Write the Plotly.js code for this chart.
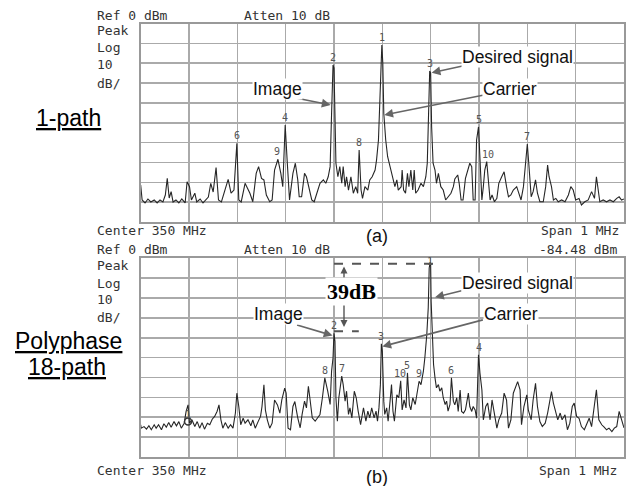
<!DOCTYPE html>
<html><head><meta charset="utf-8">
<script src="https://cdn.plot.ly/plotly-3.0.1.min.js"></script>
<style>html,body{margin:0;padding:0;background:#fff}#chart{width:632px;height:486px}</style>
</head><body><div id="chart"></div>
<script>
// ---- Data: panel (a) 1-path, frequency in MHz, level in dBm ----
const freqA = [349.500,349.503,349.509,349.515,349.521,349.528,349.534,349.540,349.546,349.551,
349.555,349.559,349.563,349.567,349.573,349.579,349.585,349.592,349.596,349.601,
349.605,349.612,349.616,349.623,349.629,349.635,349.640,349.645,349.650,349.656,
349.661,349.667,349.675,349.681,349.687,349.693,349.699,349.703,349.708,349.716,
349.726,349.732,349.739,349.744,349.750,349.755,349.760,349.767,349.772,349.777,
349.784,349.790,349.794,349.799,349.803,349.808,349.815,349.820,349.825,349.828,
349.833,349.839,349.843,349.848,349.854,349.859,349.864,349.871,349.878,349.883,
349.888,349.892,349.895,349.898,349.900,349.902,349.904,349.908,349.912,349.916,
349.919,349.923,349.926,349.930,349.935,349.940,349.945,349.949,349.952,349.956,
349.959,349.964,349.970,349.974,349.979,349.985,349.988,349.992,349.994,349.997,
349.999,350.001,350.003,350.007,350.011,350.016,350.019,350.023,350.026,350.030,
350.033,350.039,350.041,350.044,350.048,350.052,350.055,350.059,350.063,350.066,
350.069,350.074,350.080,350.085,350.090,350.093,350.095,350.098,350.100,350.102,
350.105,350.109,350.112,350.116,350.121,350.126,350.131,350.136,350.142,350.147,
350.150,350.156,350.159,350.163,350.167,350.172,350.177,350.181,350.185,350.188,
350.192,350.195,350.199,350.202,350.206,350.209,350.212,350.216,350.219,350.223,
350.227,350.232,350.237,350.241,350.247,350.252,350.257,350.261,350.266,350.271,
350.278,350.283,350.287,350.292,350.297,350.300,350.303,350.308,350.312,350.317,
350.321,350.326,350.333,350.338,350.342,350.345,350.350,350.354,350.359,350.364,
350.371,350.378,350.385,350.390,350.395,350.400,350.407,350.412,350.419,350.426,
350.433,350.439,350.443,350.447,350.450,350.457,350.464,350.471,350.478,350.485,
350.490,350.495,350.500];
const levelA = [-81.4,-88.9,-90.4,-88.4,-89.9,-88.9,-90.4,-88.9,-89.9,-86.4,
-78.0,-87.9,-84.7,-89.9,-88.9,-90.4,-88.4,-90.4,-79.7,-82.2,
-88.9,-85.5,-89.9,-88.4,-90.4,-88.9,-87.4,-80.5,-84.9,-72.6,
-88.9,-89.9,-83.9,-78.5,-85.5,-83.9,-60.4,-88.9,-89.9,-80.5,
-85.5,-89.8,-75.5,-72.1,-78.0,-78.8,-86.4,-89.8,-88.9,-73.8,
-68.4,-75.5,-82.2,-51.1,-68.8,-88.9,-75.5,-70.4,-78.8,-87.3,
-87.3,-75.5,-77.2,-82.2,-88.9,-89.8,-85.5,-80.5,-78.8,-80.5,
-77.2,-72.1,-45.2,-20.9,-22.4,-43.6,-70.4,-77.2,-72.1,-80.5,
-72.1,-82.2,-77.2,-83.9,-77.2,-85.5,-82.2,-85.5,-63.7,-83.9,
-88.1,-82.2,-83.9,-78.8,-77.2,-73.8,-68.8,-58.7,-45.2,-23.4,
-10.8,-20.1,-45.2,-58.7,-67.1,-72.1,-75.5,-79.7,-82.2,-78.8,
-83.9,-82.2,-73.8,-83.9,-85.5,-75.5,-82.2,-73.8,-83.9,-73.8,
-85.5,-83.9,-80.5,-82.2,-77.2,-70.4,-50.3,-23.9,-24.9,-52.0,
-70.4,-73.8,-80.5,-75.5,-82.2,-83.9,-88.9,-87.3,-85.5,-82.2,
-78.3,-76.3,-80.5,-88.9,-88.9,-78.0,-73.8,-70.4,-72.1,-88.9,
-88.9,-58.7,-52.1,-68.8,-88.9,-82.2,-73.8,-69.6,-77.2,-88.9,
-86.4,-89.8,-88.1,-80.5,-77.2,-74.7,-82.2,-87.3,-86.4,-83.9,
-82.2,-86.4,-88.9,-82.2,-68.8,-60.7,-70.4,-87.3,-84.7,-78.8,
-85.5,-89.8,-89.8,-82.2,-71.3,-77.2,-82.2,-88.9,-88.1,-89.8,
-88.9,-89.8,-86.4,-82.2,-83.9,-88.9,-88.1,-91.4,-89.8,-88.9,
-84.7,-88.1,-77.2,-83.9,-89.8,-88.9,-89.8,-88.9,-89.8,-88.1,
-87.3,-88.9,-88.4];
const markerTextA = ['1','2','3','4','5','6','7','8','9','10'];
const markerFreqA = [349.999,349.898,350.098,349.799,350.199,349.699,350.300,349.952,349.782,350.218];
const markerLevelA = [-10.8,-20.9,-23.9,-51.1,-52.1,-60.4,-60.7,-63.7,-68.4,-69.6];

// ---- Data: panel (b) Polyphase 18-path ----
const freqB = [349.500,349.501,349.507,349.512,349.517,349.522,349.528,349.532,349.537,349.543,
349.548,349.553,349.558,349.563,349.569,349.574,349.579,349.584,349.590,349.594,
349.598,349.601,349.606,349.612,349.617,349.622,349.627,349.632,349.638,349.643,
349.648,349.653,349.658,349.662,349.666,349.670,349.675,349.681,349.686,349.691,
349.696,349.699,349.703,349.707,349.712,349.716,349.722,349.728,349.732,349.737,
349.743,349.748,349.751,349.755,349.758,349.762,349.767,349.772,349.777,349.783,
349.788,349.792,349.798,349.801,349.805,349.810,349.815,349.819,349.825,349.830,
349.834,349.839,349.843,349.847,349.850,349.855,349.861,349.866,349.871,349.876,
349.881,349.887,349.892,349.895,349.898,349.900,349.902,349.904,349.907,349.910,
349.916,349.919,349.923,349.926,349.930,349.933,349.937,349.942,349.946,349.950,
349.955,349.961,349.966,349.970,349.974,349.978,349.983,349.987,349.990,349.993,
349.996,349.998,350.000,350.003,350.005,350.009,350.012,350.016,350.019,350.022,
350.025,350.030,350.034,350.038,350.041,350.045,350.049,350.052,350.056,350.059,
350.063,350.068,350.073,350.076,350.080,350.085,350.088,350.092,350.095,350.097,
350.099,350.100,350.101,350.103,350.106,350.109,350.112,350.116,350.119,350.123,
350.126,350.130,350.133,350.136,350.140,350.143,350.147,350.150,350.154,350.157,
350.161,350.164,350.168,350.172,350.178,350.181,350.185,350.188,350.192,350.195,
350.197,350.199,350.202,350.206,350.209,350.214,350.218,350.223,350.227,350.232,
350.237,350.241,350.247,350.252,350.257,350.261,350.266,350.271,350.276,350.280,
350.285,350.288,350.293,350.299,350.302,350.308,350.312,350.317,350.321,350.326,
350.331,350.337,350.342,350.347,350.350,350.354,350.359,350.363,350.368,350.372,
350.378,350.383,350.388,350.393,350.397,350.402,350.407,350.412,350.418,350.423,
350.428,350.433,350.439,350.443,350.448,350.454,350.459,350.464,350.469,350.475,
350.480,350.485,350.490,350.495,350.500];
const levelB = [-83.8,-85.5,-84.7,-86.0,-84.3,-86.3,-83.8,-85.5,-83.8,-86.3,
-83.3,-85.0,-82.7,-85.0,-82.2,-84.3,-82.2,-85.5,-83.0,-77.1,
-73.8,-83.0,-81.3,-84.7,-82.2,-85.5,-82.7,-86.0,-83.0,-83.8,
-81.0,-79.6,-77.1,-73.8,-81.3,-85.5,-82.7,-85.5,-83.8,-85.5,
-77.9,-67.9,-74.6,-83.8,-80.5,-83.0,-81.3,-84.3,-81.3,-85.5,
-82.2,-79.6,-74.6,-63.7,-76.3,-81.3,-85.5,-83.0,-71.3,-73.8,
-77.9,-71.3,-65.4,-67.9,-85.5,-86.3,-74.6,-72.1,-80.3,-85.3,
-78.6,-71.9,-75.3,-64.4,-70.2,-80.3,-82.0,-80.3,-78.6,-70.2,
-60.2,-66.9,-73.6,-56.8,-50.1,-37.8,-41.8,-70.2,-82.0,-70.2,
-59.3,-63.6,-71.9,-66.9,-78.6,-75.3,-80.3,-66.9,-70.2,-76.9,
-83.7,-75.3,-82.0,-76.9,-80.3,-75.3,-80.3,-76.9,-82.0,-75.3,
-63.6,-43.1,-46.8,-71.9,-78.6,-75.3,-82.0,-71.9,-63.6,-76.9,
-82.0,-68.7,-70.2,-61.7,-76.3,-71.3,-75.3,-57.7,-73.8,-76.3,
-70.2,-73.6,-66.9,-61.9,-63.6,-56.8,-50.1,-38.4,-25.0,-4.9,
-1.9,-3.3,-21.7,-38.4,-53.5,-60.2,-65.2,-63.6,-66.9,-65.2,
-70.2,-73.6,-71.9,-76.9,-73.6,-60.2,-71.9,-73.8,-70.2,-77.1,
-66.3,-77.1,-77.9,-76.3,-67.9,-74.6,-77.1,-74.6,-76.3,-80.5,
-57.8,-48.6,-57.8,-66.2,-81.3,-74.6,-72.9,-81.3,-71.3,-78.8,
-85.5,-81.3,-77.9,-67.9,-71.3,-85.5,-81.3,-67.9,-64.6,-62.1,
-66.2,-83.8,-74.6,-68.7,-76.3,-81.3,-71.3,-62.9,-74.6,-82.2,
-84.7,-83.0,-77.9,-71.3,-67.1,-72.9,-77.9,-81.3,-77.9,-81.3,
-78.8,-86.3,-83.0,-74.6,-72.9,-79.6,-80.5,-84.7,-86.3,-83.0,
-80.5,-84.7,-74.6,-66.2,-81.3,-83.8,-85.0,-86.3,-85.5,-87.2,
-85.5,-84.7,-77.1,-81.3,-85.3];
const markerTextB = ['1','2','3','4','5','6','7','8','9','10'];
const markerFreqB = [350.099,349.900,349.998,350.199,350.052,350.143,349.916,349.881,350.076,350.036];
const markerLevelB = [-1.9,-37.8,-43.1,-48.6,-57.7,-60.2,-59.3,-60.2,-61.9,-61.7];
const refMarkerFreqB = [349.598];
const refMarkerLevelB = [-82.2];
const refMarkerTextB = ['1'];

// axis settings
const spanMHz = [349.5, 350.5];
const refRange = [-100, 0];

// ---- Styles ----
const MONO = 'DejaVu Sans Mono';
const SANS = 'Liberation Sans, Arial';
const traceColor = '#262626';
const gridColor = '#aaaaaa';
const frameColor = '#999999';

function xax(anchor){ return {domain:[0.2226,0.9873], range:spanMHz, dtick:0.1, tick0:349.5,
  showgrid:true, gridcolor:gridColor, gridwidth:1.6, zeroline:false, showticklabels:false, ticks:'',
  showline:true, linecolor:frameColor, linewidth:2, mirror:true, anchor:anchor, fixedrange:true}; }
function yax(dom, anchor){ return {domain:dom, range:refRange, dtick:10, tick0:-100,
  showgrid:true, gridcolor:gridColor, gridwidth:1.6, zeroline:false, showticklabels:false, ticks:'',
  showline:true, linecolor:frameColor, linewidth:2, mirror:true, anchor:anchor, fixedrange:true}; }

const traces = [
  {x:freqA, y:levelA, xaxis:'x', yaxis:'y', type:'scatter', mode:'lines',
   line:{color:traceColor, width:1.1}, hoverinfo:'skip'},
  {x:freqB, y:levelB, xaxis:'x2', yaxis:'y2', type:'scatter', mode:'lines',
   line:{color:traceColor, width:1.1}, hoverinfo:'skip'},
  {x:refMarkerFreqB, y:refMarkerLevelB, xaxis:'x2', yaxis:'y2', type:'scatter', mode:'markers',
   marker:{symbol:'circle-open', size:7, color:'#333', line:{width:1.5}}, hoverinfo:'skip'}
];

const ann = [];
function txt(x, y, text, opts){
  ann.push(Object.assign({xref:'paper', yref:'paper', x:x, y:y, text:text, showarrow:false,
    xanchor:'left', yanchor:'middle', font:{family:MONO, size:13, color:'#333'}}, opts||{}));
}
// panel (a) header/footer
txt(0.1503, 0.9691, 'Ref 0 dBm');
txt(0.3829, 0.9691, 'Atten 10 dB');
txt(0.1503, 0.9374, 'Peak');
txt(0.1503, 0.9020, 'Log');
txt(0.1503, 0.8669, '10');
txt(0.1503, 0.8292, 'dB/');
txt(0.1503, 0.5247, 'Center 350 MHz');
txt(0.9826, 0.5247, 'Span 1 MHz', {xanchor:'right'});
txt(0.5965, 0.5144, '(a)', {xanchor:'center', font:{family:SANS, size:18, color:'#111'}});
// panel (b)
txt(0.1503, 0.4856, 'Ref 0 dBm');
txt(0.3829, 0.4856, 'Atten 10 dB');
txt(0.9794, 0.4856, '-84.48 dBm', {xanchor:'right'});
txt(0.1503, 0.4527, 'Peak');
txt(0.1503, 0.4175, 'Log');
txt(0.1503, 0.3835, '10');
txt(0.1503, 0.3457, 'dB/');
txt(0.1503, 0.0329, 'Center 350 MHz');
txt(0.9794, 0.0329, 'Span 1 MHz', {xanchor:'right'});
txt(0.5965, 0.0180, '(b)', {xanchor:'center', font:{family:SANS, size:18, color:'#111'}});
// side labels
const sideFont = {family:SANS, size:23, color:'#000'};
txt(0.1076, 0.7572, '<u>1-path</u>', {xanchor:'center', font:sideFont});
txt(0.1084, 0.2984, '<u>Polyphase</u>', {xanchor:'center', font:sideFont});
txt(0.1068, 0.2449, '<u>18-path</u>', {xanchor:'center', font:sideFont});

// marker number labels (a label whose peak touches the top edge sits on the peak)
function markerLabels(fs, ls, ts, xr, yr){
  for (let i=0;i<fs.length;i++){
    const nearTop = ls[i] > -5;
    ann.push({xref:xr, yref:yr, x:fs[i], y:ls[i], text:ts[i], showarrow:false,
      yanchor: nearTop ? 'middle' : 'bottom', xanchor:'center', yshift:0,
      font:{family:MONO, size:10, color:'#555'}});
  }
}
markerLabels(markerFreqA, markerLevelA, markerTextA, 'x', 'y');
markerLabels(markerFreqB, markerLevelB, markerTextB, 'x2', 'y2');
markerLabels(refMarkerFreqB, refMarkerLevelB, refMarkerTextB, 'x2', 'y2');

// callout arrows (head at spectrum, tail offset in px)
function arrow(xr, yr, x, y, ax, ay){
  ann.push({xref:xr, yref:yr, x:x, y:y, ax:ax, ay:ay, text:'', showarrow:true,
    arrowhead:2, arrowsize:1.1, arrowwidth:1.6, arrowcolor:'#666'});
}
arrow('x','y', 350.102, -24.8, 37, -8);
arrow('x','y', 350.004, -46.1, 100, -20);
arrow('x','y', 349.893, -41.0, -35, -7);
arrow('x2','y2', 350.109, -19.7, 28, -7);
arrow('x2','y2', 350.000, -44.4, 102, -27);
arrow('x2','y2', 349.897, -38.9, -37, -11);

// callout texts
const callFont = {family:SANS, size:17.5, color:'#111'};
function call(x, y, text){
  ann.push({xref:'paper', yref:'paper', x:x, y:y, text:text, showarrow:false,
    xanchor:'center', yanchor:'middle', font:callFont, bgcolor:'#fff', borderpad:0});
}
call(0.8185, 0.8817, 'Desired signal');
call(0.8070, 0.8169, 'Carrier');
call(0.4388, 0.8169, 'Image');
call(0.8196, 0.4183, 'Desired signal');
call(0.8092, 0.3549, 'Carrier');
call(0.4411, 0.3539, 'Image');

// 39 dB dimension
ann.push({xref:'paper', yref:'paper', x:0.5443, y:0.4516, ax:0, ay:62, text:'', showarrow:true,
  arrowhead:2, startarrowhead:2, arrowside:'end+start', arrowsize:1, arrowwidth:1.4, arrowcolor:'#555'});
ann.push({xref:'paper', yref:'paper', x:0.5554, y:0.4006, text:'<b>39dB</b>', showarrow:false,
  xanchor:'center', yanchor:'middle', bgcolor:'#fff', borderpad:1,
  font:{family:'Liberation Serif, Times New Roman', size:22, color:'#000'}});

const shapes = [
  {type:'line', xref:'paper', yref:'paper', x0:0.5285, x1:0.6851, y0:0.4574, y1:0.4574,
   line:{color:'#555', width:2, dash:'dash'}},
  {type:'line', xref:'paper', yref:'paper', x0:0.5285, x1:0.5677, y0:0.3183, y1:0.3183,
   line:{color:'#555', width:2, dash:'dash'}}
];

const layout = {
  width:632, height:486, margin:{l:0,r:0,t:0,b:0},
  paper_bgcolor:'#fff', plot_bgcolor:'#fff', showlegend:false,
  xaxis:xax('y'), yaxis:yax([0.5432,0.9516],'x'),
  xaxis2:xax('y2'), yaxis2:yax([0.0597,0.4687],'x2'),
  annotations:ann, shapes:shapes
};
Plotly.newPlot('chart', traces, layout, {staticPlot:true, displayModeBar:false});
</script></body></html>
